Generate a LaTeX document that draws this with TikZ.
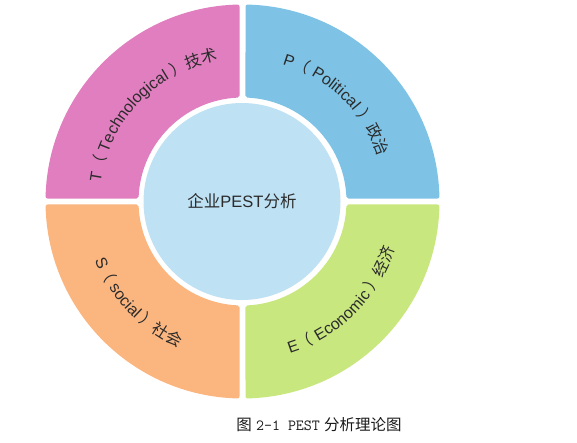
\documentclass[tikz,border=0pt]{standalone}
\usepackage{fontspec}
\setmainfont{Liberation Sans}
\newfontfamily\cjk{Noto Sans CJK SC}
\newfontfamily\lab{Liberation Sans}
\usetikzlibrary{decorations.text,calc}
\definecolor{pinkS}{HTML}{E07EBF}
\definecolor{blueS}{HTML}{7EC3E6}
\definecolor{orangeS}{HTML}{FBB57F}
\definecolor{greenS}{HTML}{C9E77F}
\definecolor{coreC}{HTML}{BEE1F4}
\definecolor{txt}{HTML}{2B2B2B}
\newcommand\pestsector[2]{%
  \filldraw[sectorstyle, fill=#2, draw=#2]
    ($(c)+({#1+1.469}:195)$) arc[start angle={#1+1.469}, end angle={#1+88.53}, radius=195]
    -- ($(c)+({#1+87.30}:106)$) arc[start angle={#1+87.30}, end angle={#1+2.70}, radius=106]
    -- cycle;}
\newcommand\lfs{\fontsize{16}{19}\selectfont}
\begin{document}
\begin{tikzpicture}[x=1pt,y=1pt,
  sectorstyle/.style={line width=4pt, line join=round},
  arclabel/.style={decorate, decoration={text along path, text align=center, text color=txt}}]
\useasboundingbox (0,0) rectangle (577,442);
\coordinate (c) at (242.5,240.5);
\pestsector{0}{blueS}
\pestsector{90}{pinkS}
\pestsector{180}{orangeS}
\pestsector{270}{greenS}
\node[circle, fill=coreC, minimum size=197pt, inner sep=0pt, text=txt,
      font=\fontsize{16.5}{19}\selectfont] (core) at (242,240.5) {{\cjk 企业}PEST{\cjk 分析}};
% arc labels
\path[arclabel, decoration={text={|\lab\lfs|T|\cjk\lfs|（|\lab\lfs| Technological |\cjk\lfs|）技术}}]
  ($(c)+(176:143)$) arc[start angle=176, end angle=96, radius=143];
\path[arclabel, decoration={text={|\lab\lfs|P|\cjk\lfs|（|\lab\lfs| Political |\cjk\lfs|）政治}}]
  ($(c)+(86:143)$) arc[start angle=86, end angle=6, radius=143];
\path[arclabel, decoration={text={|\lab\lfs|S|\cjk\lfs|（|\lab\lfs| social |\cjk\lfs|）社会}}]
  ($(c)+(184:159)$) arc[start angle=184, end angle=264, radius=159];
\path[arclabel, decoration={text={|\lab\lfs|E|\cjk\lfs|（|\lab\lfs| Economic |\cjk\lfs|）经济}}]
  ($(c)+(275:159)$) arc[start angle=275, end angle=355, radius=159];
\node[text=black!90, font=\fontsize{15.5}{18}\selectfont] (caption) at (319,17)
  {{\cjk 图} {\ttfamily 2-1 PEST} {\cjk 分析理论图}};
\end{tikzpicture}
\end{document}
